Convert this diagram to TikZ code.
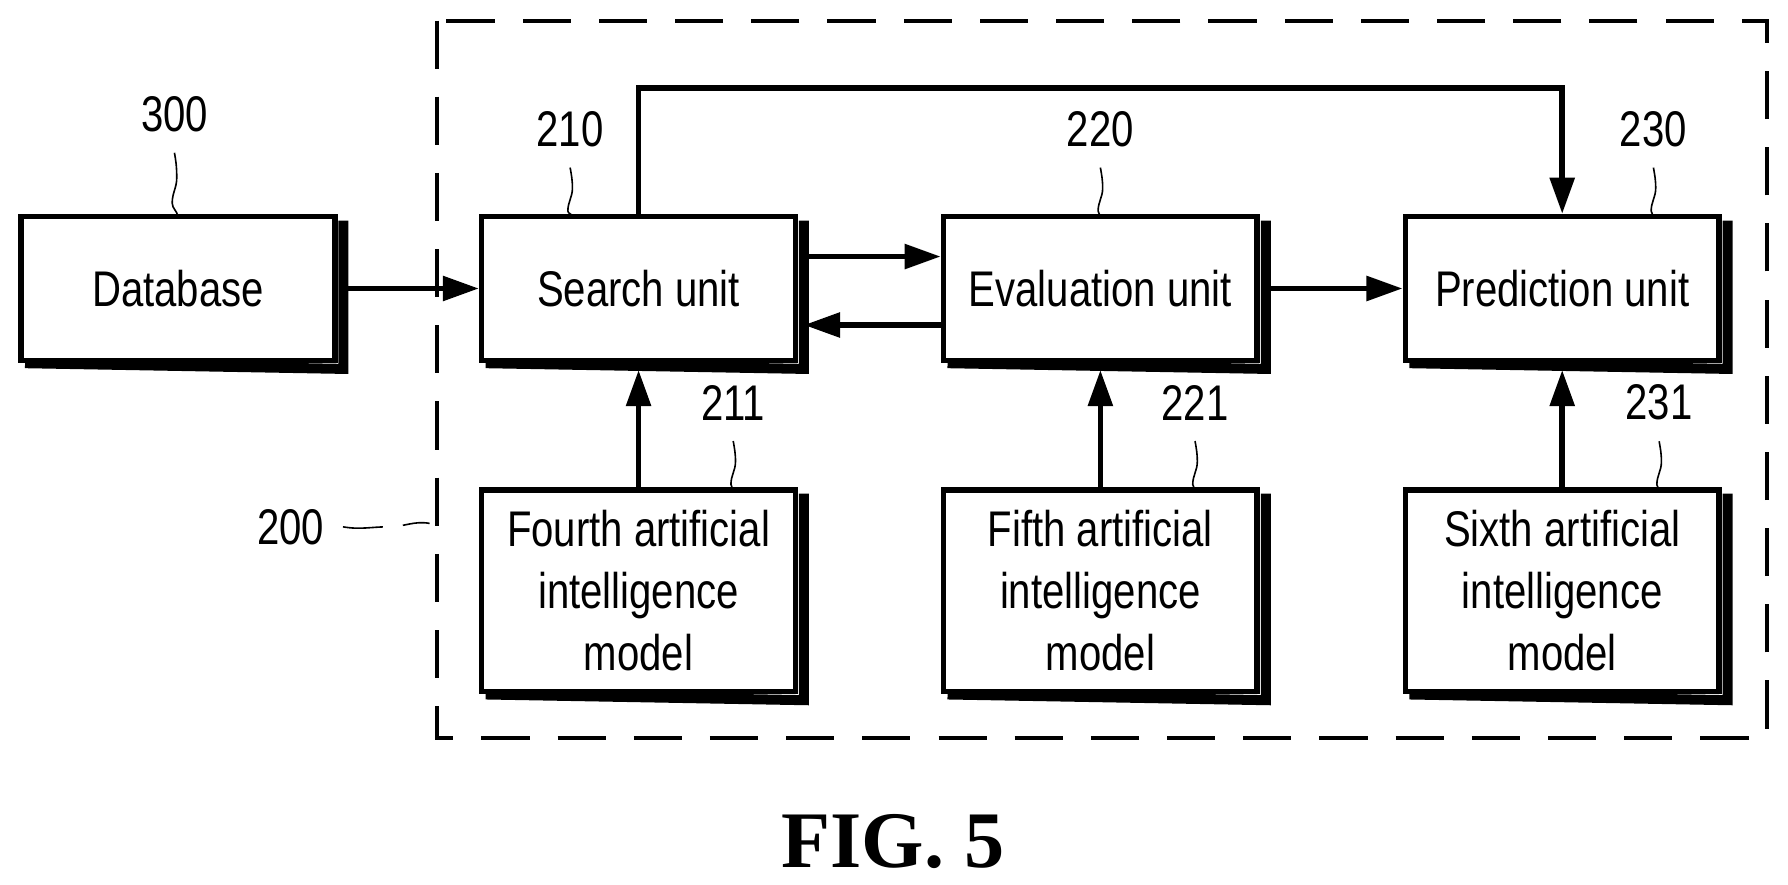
\documentclass[tikz,border=0pt]{standalone}
\usepackage{fontspec}
\setmainfont{Liberation Sans}[FakeStretch=0.8]
\newfontfamily\figfont{Liberation Serif}
\usetikzlibrary{arrows.meta}
\tikzset{
  blk/.style={draw, line width=1.4pt, minimum width=2.75cm, minimum height=1.26cm, align=center, font=\fontsize{12.5}{15.5}\selectfont},
  shd/.style={line width=2.5pt},
  arr/.style={-{Triangle[length=9pt,width=6pt]}, line width=1.4pt},
  lead/.style={thin},
  num/.style={font=\fontsize{12.5}{15}\selectfont}
}
\newcommand{\shadowbox}[1]{%
  \draw[shd] ([xshift=0.06cm]#1.south west) -- ([xshift=0.05cm,yshift=-0.05cm]#1.south east) -- ([xshift=0.05cm,yshift=-0.06cm]#1.north east);}
\begin{document}
\begin{tikzpicture}[x=0.01cm,y=-0.01cm]
  \useasboundingbox (0,0) rectangle (1568,776);

  % units
  \node[blk] (db) at (156,253) {Database};
  \node[blk] (su) at (560,253) {Search unit};
  \node[blk] (eu) at (965,253) {Evaluation unit};
  \node[blk] (pu) at (1370,253) {Prediction unit};
  \node[blk, minimum height=1.77cm] (m4) at (560,518) {Fourth artificial\\intelligence\\model};
  \node[blk, minimum height=1.77cm] (m5) at (965,518) {Fifth artificial\\intelligence\\model};
  \node[blk, minimum height=1.77cm] (m6) at (1370,518) {Sixth artificial\\intelligence\\model};
  \foreach \b in {db,su,eu,pu,m4,m5,m6} {\shadowbox{\b}}

  % dashed frame
  \draw[dash pattern=on 12pt off 7pt, line width=1pt] (383,18) rectangle (1550,647);

  % connectors
  \draw[arr] ([xshift=0.05cm]db.east) -- (su.west);
  \draw[arr] ([yshift=0.28cm,xshift=0.05cm]su.east) -- ([yshift=0.28cm]eu.west);
  \draw[arr] ([yshift=-0.32cm]eu.west) -- ([yshift=-0.32cm,xshift=0.05cm]su.east);
  \draw[arr] ([xshift=0.05cm]eu.east) -- (pu.west);
  \draw[arr] (su.north) |- (1370,77) -- (pu.north);
  \draw[arr] (m4.north) -- ([yshift=-0.06cm]su.south);
  \draw[arr] (m5.north) -- ([yshift=-0.06cm]eu.south);
  \draw[arr] (m6.north) -- ([yshift=-0.06cm]pu.south);

  % reference numerals
  \node[num] (n300) at (153,100) {300};
  \node[num] (n210) at (500,113) {210};
  \node[num] (n220) at (965,113) {220};
  \node[num] (n230) at (1450,113) {230};
  \node[num] (n211) at (643,353) {211};
  \node[num] (n221) at (1048,353) {221};
  \node[num] (n231) at (1455,353) {231};
  \node[num] (n200) at (255,462) {200};
  \draw[lead] (n300.south) ++(0,6) to[out=-80,in=90] ++(2,22) to[out=-90,in=90] ++(-4,22) to[out=-90,in=95] (156,190);
  \draw[lead] (n210.south) ++(0,6) to[out=-80,in=90] ++(2,18) to[out=-90,in=90] ++(-4,20) to[out=-90,in=95] (502,190);
  \draw[lead] (n220.south) ++(0,6) to[out=-80,in=90] ++(2,18) to[out=-90,in=90] ++(-4,20) to[out=-90,in=95] (965,190);
  \draw[lead] (n230.south) ++(0,6) to[out=-80,in=90] ++(2,18) to[out=-90,in=90] ++(-4,20) to[out=-90,in=95] (1450,190);
  \draw[lead] (n211.south) ++(0,6) to[out=-80,in=90] ++(2,18) to[out=-90,in=90] ++(-4,20) to[out=-90,in=95] (643,430);
  \draw[lead] (n221.south) ++(0,6) to[out=-80,in=90] ++(2,18) to[out=-90,in=90] ++(-4,20) to[out=-90,in=95] (1048,430);
  \draw[lead] (n231.south) ++(0,6) to[out=-80,in=90] ++(2,18) to[out=-90,in=90] ++(-4,20) to[out=-90,in=95] (1455,430);
  \draw[lead, dash pattern=on 10pt off 5pt] (n200.east) ++(4,0) to[out=-10,in=180] ++(40,0) to[out=0,in=170] ++(36,-3);

  \node[font=\figfont\bfseries\fontsize{20}{24}\selectfont] (fig) at (783,738) {FIG. 5};
\end{tikzpicture}
\end{document}
